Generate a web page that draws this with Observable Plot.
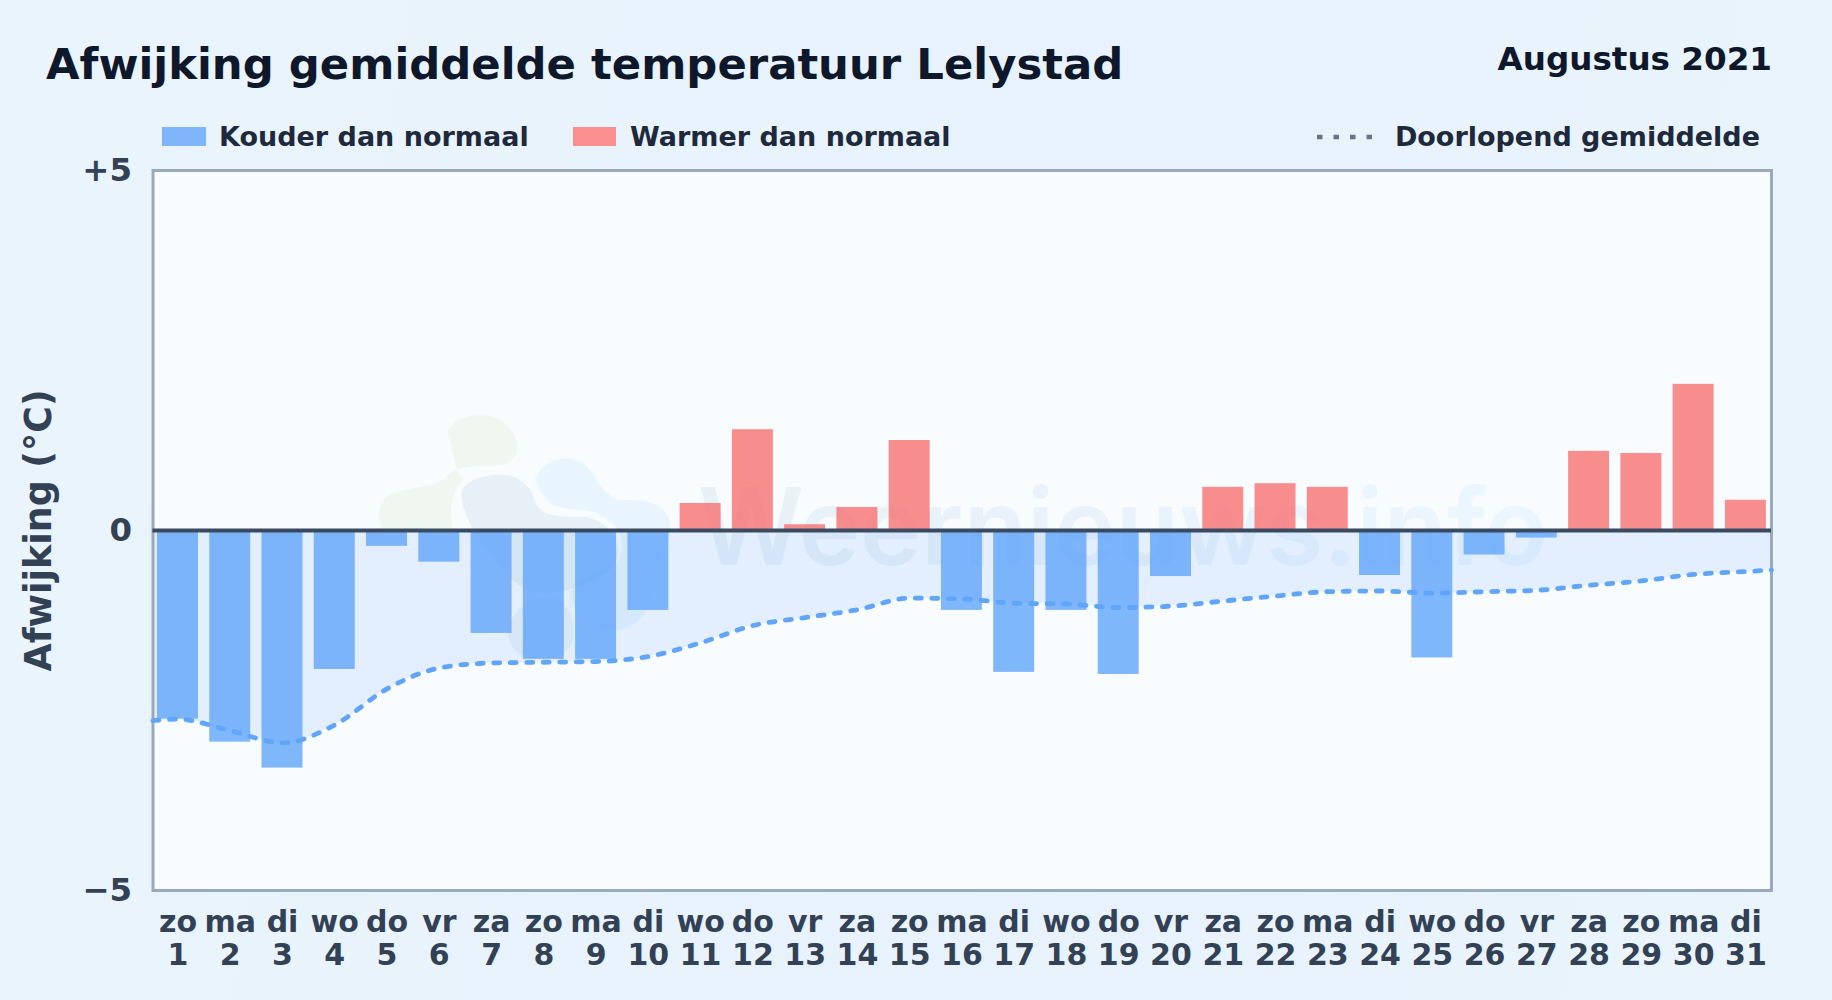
<!DOCTYPE html>
<html lang="nl">
<head>
<meta charset="utf-8">
<title>Afwijking gemiddelde temperatuur Lelystad</title>
<script src="https://cdn.jsdelivr.net/npm/d3@7"></script>
<script src="https://cdn.jsdelivr.net/npm/@observablehq/plot@0.6"></script>
<style>
html,body{margin:0;padding:0}
body{width:1832px;height:1000px;overflow:hidden;position:relative;background:linear-gradient(100deg,#eaf4fc 0%,#e7f2fd 60%,#eaf4fc 100%);font-family:"DejaVu Sans",sans-serif;font-weight:700}
.abs{position:absolute;white-space:nowrap;line-height:1}
#title{left:46px;top:43px;font-size:43.35px;color:#0f172a}
#period{right:60px;top:43px;font-size:32.6px;color:#0f172a}
.lg{top:123px;font-size:27px;color:#1e293b}
.sw{position:absolute;top:127px;height:19px}
#panel{position:absolute;left:152.5px;top:170px;width:1618.5px;height:720px;background:#f8fcff}
#chart{position:absolute;left:0;top:150px}
#wm{position:absolute;left:0;top:0;pointer-events:none}
</style>
</head>
<body>
<div class="abs" id="title">Afwijking gemiddelde temperatuur Lelystad</div>
<div class="abs" id="period">Augustus 2021</div>
<div class="sw" style="left:162px;width:44px;background:#7fb5fb"></div>
<div class="abs lg" style="left:219px">Kouder dan normaal</div>
<div class="sw" style="left:573px;width:43px;background:#f98f8f"></div>
<div class="abs lg" style="left:630px">Warmer dan normaal</div>
<svg class="abs" style="left:1317px;top:131px" width="60" height="12"><line x1="0" x2="58" y1="6" y2="6" stroke="#64748b" stroke-width="4.5" stroke-dasharray="5.5 11"/></svg>
<div class="abs lg" style="right:72px">Doorlopend gemiddelde</div>
<div id="panel"></div>
<svg id="wm" width="1832" height="1000">
  <defs>
    <linearGradient id="wmg" x1="700" x2="1548" y1="0" y2="0" gradientUnits="userSpaceOnUse">
      <stop offset="0" stop-color="#3f6ea8" stop-opacity=".085"/>
      <stop offset="1" stop-color="#60b8fa" stop-opacity=".09"/>
    </linearGradient>
  </defs>
  <g transform="translate(360 400) scale(.3333)">
    <path fill="#a8d070" fill-opacity=".1" d="M262,95C285,40 400,20 450,85C485,130 475,185 430,195C370,200 290,190 255,235C215,265 120,260 75,295C50,325 55,370 70,395L280,395C270,340 265,290 310,235C280,215 285,150 262,95Z"/>
    <path fill="#3f6ea8" fill-opacity=".085" d="M305,290C300,240 380,220 440,225C495,235 515,270 530,315C550,350 610,352 670,350C730,355 765,400 775,450C780,500 720,540 650,560C580,590 480,590 420,500C370,440 310,360 305,290Z"/>
    <path fill="#3f6ea8" fill-opacity=".07" d="M445,700C450,640 490,600 560,590C620,590 650,660 640,720C630,760 580,780 520,775C470,770 445,740 445,700Z"/>
    <path fill="#60b8fa" fill-opacity=".1" d="M530,230C545,180 620,160 670,190C710,220 710,270 770,298C820,305 890,290 925,350C945,410 910,470 860,520C890,610 850,680 770,690C700,690 640,640 630,590C640,540 700,520 770,490C800,430 790,370 700,335C640,320 570,340 540,270C532,255 528,245 530,230Z"/>
  </g>
  <text x="698" y="565" font-family="Inter" font-weight="600" font-size="107" fill="url(#wmg)" textLength="850" lengthAdjust="spacingAndGlyphs">Weernieuws.info</text>
</svg>
<div id="chart"></div>
<script>
const days = d3.range(1, 32);
const weekdays = ["zo","ma","di","wo","do","vr","za","zo","ma","di","wo","do","vr","za","zo","ma","di","wo","do","vr","za","zo","ma","di","wo","do","vr","za","zo","ma","di"];
const deviation = [-2.62,-2.94,-3.30,-1.93,-0.22,-0.44,-1.43,-1.79,-1.79,-1.11,0.375,1.40,0.08,0.32,1.25,-1.11,-1.97,-1.11,-2.00,-0.64,0.60,0.65,0.60,-0.625,-1.77,-0.34,-0.105,1.10,1.07,2.03,0.42];
const avgDays = [0.522,...days,31.49];
const runningAvg = [-2.64,-2.62,-2.78,-2.95,-2.70,-2.20,-1.91,-1.84,-1.83,-1.82,-1.75,-1.56,-1.32,-1.21,-1.10,-0.94,-0.95,-1.01,-1.02,-1.07,-1.05,-0.98,-0.91,-0.85,-0.84,-0.87,-0.85,-0.83,-0.76,-0.70,-0.61,-0.57,-0.55];
const yTicks = [-5,0,5];
const yLabels = {"-5":"\u22125","0":"0","5":"+5"};
const yTitle = ["Afwijking (°C)"];

const bars = days.map((d,i)=>({day:d,v:deviation[i],label:weekdays[i]+"\n"+d}));
const avg = avgDays.map((d,i)=>({day:d,v:runningAvg[i]}));

const chart = Plot.plot({
  width:1832,height:850,
  marginLeft:152.5,marginRight:61,marginTop:20,marginBottom:110,
  style:{background:"transparent",fontFamily:"DejaVu Sans",fontWeight:700,overflow:"visible"},
  x:{type:"linear",domain:[0.522,31.49]},
  y:{domain:[-5,5],type:"linear"},
  marks:[
    Plot.areaY(avg,{x:"day",y1:0,y2:"v",curve:"monotone-x",fill:"#60a5fa",fillOpacity:.14}),
    Plot.rectY(bars,{x1:d=>d.day-0.392,x2:d=>d.day+0.392,y1:0,y2:"v",fill:d=>d.v<0?"#60a5fa":"#f87171",fillOpacity:.8}),
    Plot.frame({stroke:"#9aa9bd",strokeWidth:3}),
    Plot.ruleY([0],{stroke:"#3a4a60",strokeWidth:4}),
    Plot.line(avg,{x:"day",y:"v",curve:"monotone-x",stroke:"#60a5fa",strokeWidth:4.8,strokeDasharray:"6 10.5",strokeLinecap:"round"}),
    Plot.axisX(days,{anchor:"bottom",tickSize:0,tickPadding:17,label:null,fontSize:30,lineHeight:1.13,fill:"#334155",tickFormat:d=>bars[d-1].label}),
    Plot.axisY(yTicks,{anchor:"left",tickSize:0,tickPadding:21,fontSize:32.4,fill:"#334155",tickFormat:d=>yLabels[d],label:null}),
    Plot.text(yTitle,{frameAnchor:"left",textAnchor:"middle",rotate:-90,dx:-113.5,fontSize:36.4,fontWeight:700,fill:"#334155"})
  ]
});
document.getElementById("chart").append(chart);
</script>
</body>
</html>
